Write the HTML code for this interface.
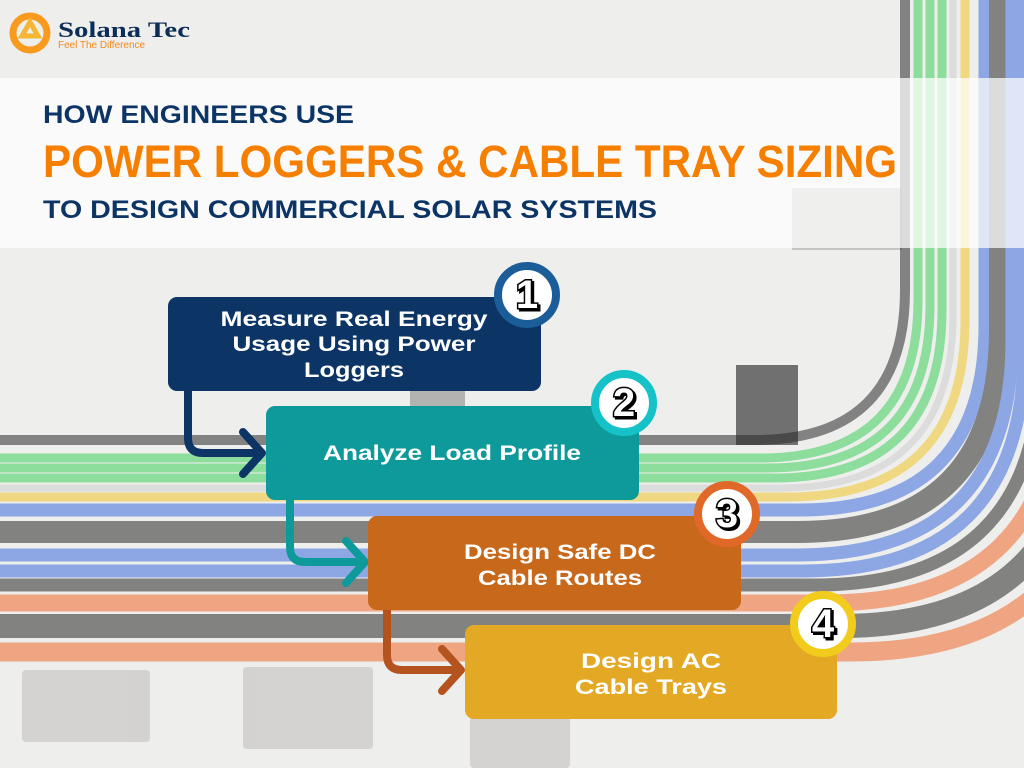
<!DOCTYPE html>
<html><head><meta charset="utf-8"><style>
html,body{margin:0;padding:0;width:1024px;height:768px;overflow:hidden;background:#eeeeed}
svg{display:block}
</style></head><body>
<svg width="1024" height="768" viewBox="0 0 1024 768" xmlns="http://www.w3.org/2000/svg" font-family="'Liberation Sans', sans-serif">
<rect width="1024" height="768" fill="#eeeeed"/>
<!-- grey panels -->
<g fill="#d2cfce" opacity="0.9">
<rect x="22" y="670" width="128" height="72" rx="4"/>
<rect x="243" y="667" width="130" height="82" rx="4"/>
<rect x="470" y="705" width="100" height="63" rx="4"/>
</g>
<!-- cable clamps -->
<rect x="792" y="188" width="110" height="62" fill="#9a9a9a" opacity="0.5"/>
<rect x="736" y="365" width="62" height="80" fill="#3a3a3a" opacity="0.7"/>
<rect x="410" y="382" width="55" height="25" fill="#777" opacity="0.5"/>
<!-- cables -->
<g fill="none" opacity="0.55" stroke-linecap="butt">
<path d="M905 0 V290 Q905 440 755 440 H0" stroke="#2b2b2b" stroke-width="10"/>
<path d="M918 0 V300 Q918 458 760 458 H0" stroke="#3fd05a" stroke-width="9"/>
<path d="M930 0 V305 Q930 468 767 468 H0" stroke="#3fd05a" stroke-width="9"/>
<path d="M942 0 V310 Q942 478 774 478 H0" stroke="#3fd05a" stroke-width="9"/>
<path d="M953 0 V315 Q953 488 780 488 H0" stroke="#cfcfcf" stroke-width="7"/>
<path d="M965 0 V320 Q965 497 788 497 H0" stroke="#f2c52a" stroke-width="9"/>
<path d="M985 0 V325 Q985 510 800 510 H0" stroke="#3f6ee0" stroke-width="13"/>
<path d="M1000 0 V330 Q1000 532 798 532 H0" stroke="#2a2a2a" stroke-width="22"/>
<path d="M1012 0 V340 Q1012 555 797 555 H0" stroke="#3f6ee0" stroke-width="13"/>
<path d="M1024 0 V350 Q1024 571 803 571 H0" stroke="#3f6ee0" stroke-width="13"/>
<path d="M1040 0 V360 Q1040 585 815 585 H0" stroke="#2a2a2a" stroke-width="13"/>
<path d="M1060 0 V370 Q1060 603 827 603 H0" stroke="#f36a2c" stroke-width="17"/>
<path d="M1085 0 V380 Q1085 626 840 626 H0" stroke="#2a2a2a" stroke-width="24"/>
<path d="M1110 0 V390 Q1110 652 850 652 H0" stroke="#f36a2c" stroke-width="19"/>
</g>
<!-- header band -->
<rect x="0" y="78" width="1024" height="170" fill="#ffffff" opacity="0.72"/>
<text x="43" y="123" font-size="25" font-weight="bold" fill="#0c3566" textLength="311" lengthAdjust="spacingAndGlyphs">HOW ENGINEERS USE</text>
<text x="43" y="177" font-size="45" font-weight="bold" fill="#f77f00" textLength="854" lengthAdjust="spacingAndGlyphs">POWER LOGGERS &amp; CABLE TRAY SIZING</text>
<text x="43" y="218" font-size="25" font-weight="bold" fill="#0c3566" textLength="614" lengthAdjust="spacingAndGlyphs">TO DESIGN COMMERCIAL SOLAR SYSTEMS</text>
<!-- logo -->
<circle cx="30" cy="33" r="17" fill="none" stroke="#f79a1e" stroke-width="7"/>
<path d="M22 36 L30 22 L38 36 Z" fill="none" stroke="#f5b731" stroke-width="5"/>
<text x="58" y="37" font-size="22" font-weight="bold" fill="#0c2d57" font-family="'Liberation Serif', serif" textLength="132" lengthAdjust="spacingAndGlyphs">Solana Tec</text>
<text x="58" y="48" font-size="10" fill="#f08a1c" textLength="87" lengthAdjust="spacingAndGlyphs">Feel The Difference</text>
<!-- arrows -->
<g fill="none" stroke-width="8" stroke-linecap="round" stroke-linejoin="round">
<path d="M188 390 V438 Q188 453 203 453 H258" stroke="#0c3566"/>
<path d="M243 432 L262 453 L243 474" stroke="#0c3566"/>
<path d="M290 500 V547 Q290 562 305 562 H360" stroke="#0e9a9a"/>
<path d="M346 541 L365 562 L346 583" stroke="#0e9a9a"/>
<path d="M387 609 V655 Q387 670 402 670 H456" stroke="#b5531f"/>
<path d="M442 649 L461 670 L442 691" stroke="#b5531f"/>
</g>
<!-- boxes -->
<rect x="168" y="297" width="373" height="94" rx="9" fill="#0c3566"/>
<rect x="266" y="406" width="373" height="94" rx="9" fill="#0e9a9a"/>
<rect x="368" y="516" width="373" height="94" rx="9" fill="#c7681b"/>
<rect x="465" y="625" width="372" height="94" rx="9" fill="#e3a924"/>
<g fill="#ffffff" font-size="21" font-weight="bold" text-anchor="middle">
<text x="354" y="326" textLength="267" lengthAdjust="spacingAndGlyphs">Measure Real Energy</text>
<text x="354" y="351" textLength="243" lengthAdjust="spacingAndGlyphs">Usage Using Power</text>
<text x="354" y="377" textLength="100" lengthAdjust="spacingAndGlyphs">Loggers</text>
<text x="452" y="460" textLength="258" lengthAdjust="spacingAndGlyphs">Analyze Load Profile</text>
<text x="560" y="559" textLength="192" lengthAdjust="spacingAndGlyphs">Design Safe DC</text>
<text x="560" y="585" textLength="164" lengthAdjust="spacingAndGlyphs">Cable Routes</text>
<text x="651" y="668" textLength="140" lengthAdjust="spacingAndGlyphs">Design AC</text>
<text x="651" y="694" textLength="152" lengthAdjust="spacingAndGlyphs">Cable Trays</text>
</g>
<!-- badges -->
<g stroke-width="8">
<circle cx="527" cy="295" r="29" fill="#fff" stroke="#1a5d99"/>
<circle cx="624" cy="403" r="29" fill="#fff" stroke="#14c2c8"/>
<circle cx="727" cy="514" r="29" fill="#fff" stroke="#e0692a"/>
<circle cx="823" cy="624" r="29" fill="#fff" stroke="#f2cc1c"/>
</g>
<g font-size="40" font-weight="bold" text-anchor="middle" fill="#fff" stroke="#000" stroke-width="3" paint-order="stroke">
<text x="529" y="310" fill="#000">1</text><text x="527" y="308">1</text>
<text x="626" y="418" fill="#000">2</text><text x="624" y="416">2</text>
<text x="729" y="529" fill="#000">3</text><text x="727" y="527">3</text>
<text x="825" y="639" fill="#000">4</text><text x="823" y="637">4</text>
</g>
</svg>
</body></html>
